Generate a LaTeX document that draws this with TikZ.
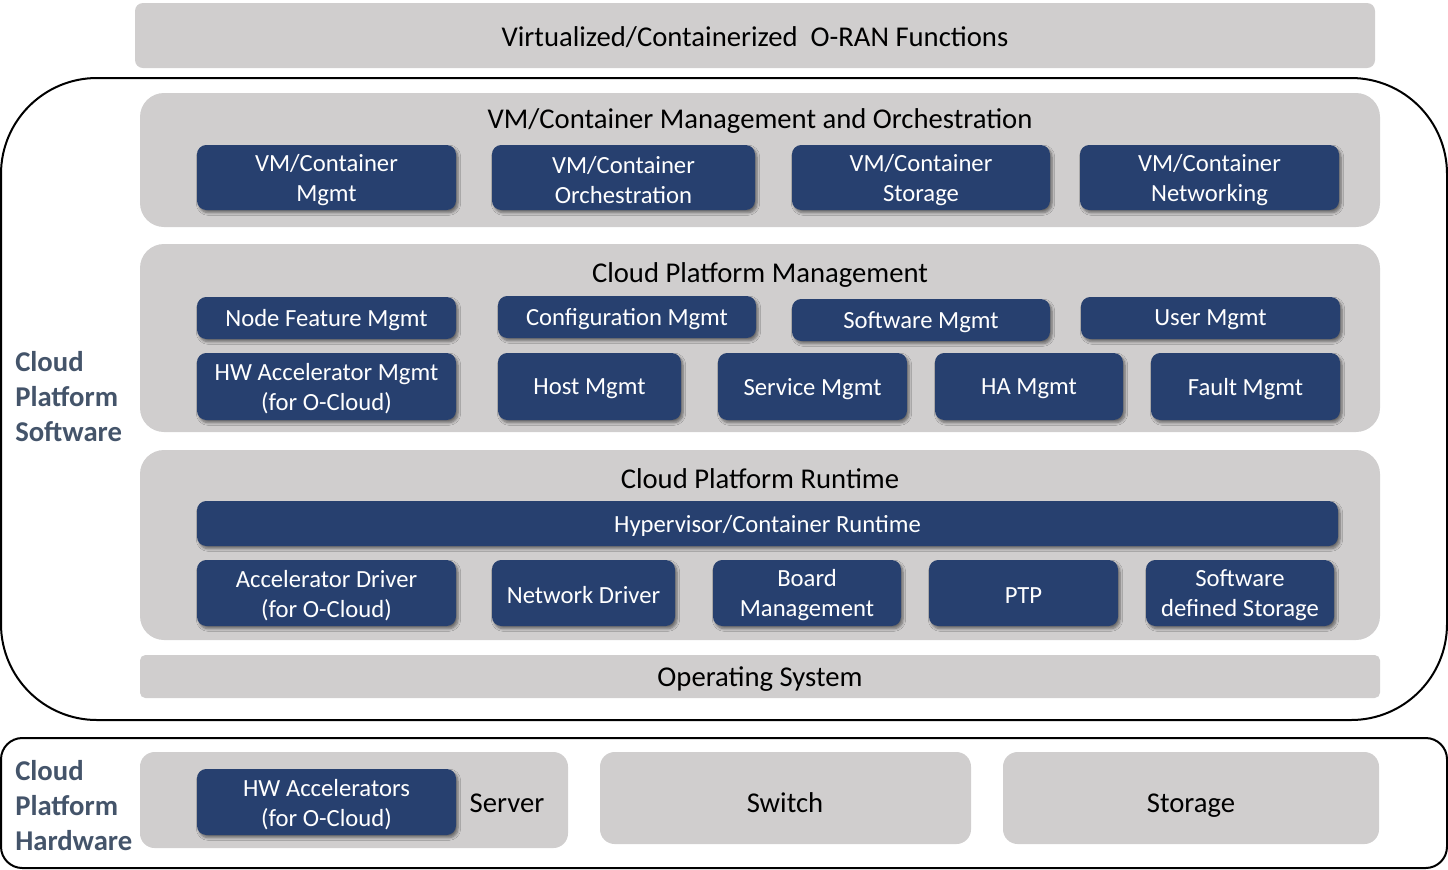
\documentclass[tikz,border=0pt]{standalone}
\usepackage{fontspec}
\setmainfont{Carlito}
\usetikzlibrary{shadows.blur,fit}
\definecolor{panelgray}{HTML}{D0CECE}
\definecolor{boxblue}{HTML}{27406F}
\definecolor{sidecol}{HTML}{44546A}
\begin{document}
\begin{tikzpicture}[x=0.75pt,y=-0.75pt,
 panel/.style={fill=panelgray, draw=none, rounded corners=18pt, inner sep=0pt},
 hwpanel/.style={fill=panelgray, draw=none, rounded corners=11pt, inner sep=0pt},
 flatbar/.style={fill=panelgray, draw=none, rounded corners=5pt, inner sep=0pt},
 bbox/.style={fill=boxblue, draw=none, rounded corners=7pt, inner sep=0pt,
   blur shadow={shadow xshift=1.5pt, shadow yshift=-2pt, shadow blur steps=6, shadow blur radius=2pt, shadow opacity=50}},
 btxt/.style={text=white, align=center, inner sep=0pt, yshift=-1.6pt, font=\fontsize{18.5}{22.5}\selectfont},
 title/.style={font=\fontsize{21.5}{26}\selectfont, text=black, inner sep=0pt, text height=0.75em, text depth=0.25em, yshift=-4.5pt},
 side/.style={font=\fontsize{21.5}{26.4}\selectfont\bfseries, text=sidecol, align=left, anchor=north west, inner sep=0pt},
 frame/.style={draw=black, line width=1.5pt, fill=none, inner sep=0pt}
]
\useasboundingbox (0,0) rectangle (1448,869);

% top functions bar
\node[flatbar, rounded corners=6pt, fit={(135,3)(1375,68)}] (top) {};
\node[title] (toptxt) at (755,37) {Virtualized/Containerized\ \ O-RAN Functions};

% software frame
\node[frame, rounded corners=72pt, fit={(1,78)(1447,720)}] (swframe) {};
\node[side] (swlabel) at (15,351) {Cloud\\Platform\\Software};

% VM/Container Management and Orchestration
\node[panel, fit={(140,93)(1380,227)}] (mo) {};
\node[title] (motitle) at (760,119) {VM/Container Management and Orchestration};
\node[bbox, fit={(197,145)(456,210)}] (m1) {};
\node[btxt] (m1t) at (m1.center) {VM/Container\\Mgmt};
\node[bbox, fit={(492,145)(755,210)}] (m2) {};
\node[btxt] (m2t) at (m2.center) {VM/Container\\Orchestration};
\node[bbox, fit={(792,145)(1050,210)}] (m3) {};
\node[btxt] (m3t) at (m3.center) {VM/Container\\Storage};
\node[bbox, fit={(1080,145)(1339,210)}] (m4) {};
\node[btxt] (m4t) at (m4.center) {VM/Container\\Networking};

% Cloud Platform Management
\node[panel, fit={(140,244)(1380,432)}] (cpm) {};
\node[title] (cpmtitle) at (760,273) {Cloud Platform Management};
\node[bbox, fit={(197,297)(456,339)}] (p1) {};
\node[btxt] (p1t) at (p1.center) {Node Feature Mgmt};
\node[bbox, fit={(498,296)(756,338)}] (p2) {};
\node[btxt] (p2t) at (p2.center) {Configuration Mgmt};
\node[bbox, fit={(792,299)(1050,341)}] (p3) {};
\node[btxt] (p3t) at (p3.center) {Software Mgmt};
\node[bbox, fit={(1081,297)(1340,339)}] (p4) {};
\node[btxt] (p4t) at (p4.center) {User Mgmt};
\node[bbox, fit={(197,353)(456,420)}] (p5) {};
\node[btxt] (p5t) at (p5.center) {HW Accelerator Mgmt\\(for O-Cloud)};
\node[bbox, fit={(498,353)(681,420)}] (p6) {};
\node[btxt] (p6t) at (p6.center) {Host Mgmt};
\node[bbox, fit={(718,353)(907,420)}] (p7) {};
\node[btxt] (p7t) at (p7.center) {Service Mgmt};
\node[bbox, fit={(935,353)(1123,420)}] (p8) {};
\node[btxt] (p8t) at (p8.center) {HA Mgmt};
\node[bbox, fit={(1151,353)(1340,420)}] (p9) {};
\node[btxt] (p9t) at (p9.center) {Fault Mgmt};

% Cloud Platform Runtime
\node[panel, fit={(140,450)(1380,640)}] (cpr) {};
\node[title] (cprtitle) at (760,479) {Cloud Platform Runtime};
\node[bbox, fit={(197,501)(1338,546)}] (hyp) {};
\node[btxt] (hypt) at (hyp.center) {Hypervisor/Container Runtime};
\node[bbox, fit={(197,560)(456,626)}] (r1) {};
\node[btxt] (r1t) at (r1.center) {Accelerator Driver\\(for O-Cloud)};
\node[bbox, fit={(492,560)(675,626)}] (r2) {};
\node[btxt] (r2t) at (r2.center) {Network Driver};
\node[bbox, fit={(713,560)(901,626)}] (r3) {};
\node[btxt] (r3t) at (r3.center) {Board\\Management};
\node[bbox, fit={(929,560)(1118,626)}] (r4) {};
\node[btxt] (r4t) at (r4.center) {PTP};
\node[bbox, fit={(1146,560)(1334,626)}] (r5) {};
\node[btxt] (r5t) at (r5.center) {Software\\defined Storage};

% Operating System
\node[flatbar, rounded corners=4pt, fit={(140,655)(1380,698)}] (os) {};
\node[title] (ostxt) at (760,677) {Operating System};

% hardware frame
\node[frame, rounded corners=16pt, fit={(1,738)(1447,868)}] (hwframe) {};
\node[side] (hwlabel) at (15,760) {Cloud\\Platform\\Hardware};
\node[hwpanel, fit={(140,752)(568,848)}] (server) {};
\node[title] (servertxt) at (507,803) {Server};
\node[bbox, fit={(197,769)(456,835)}] (hwacc) {};
\node[btxt] (hwacct) at (hwacc.center) {HW Accelerators\\(for O-Cloud)};
\node[hwpanel, fit={(600,752)(971,844)}] (switch) {};
\node[title] (switcht) at (785,803) {Switch};
\node[hwpanel, fit={(1003,752)(1379,844)}] (storage) {};
\node[title] (storaget) at (1191,803) {Storage};
\end{tikzpicture}
\end{document}
